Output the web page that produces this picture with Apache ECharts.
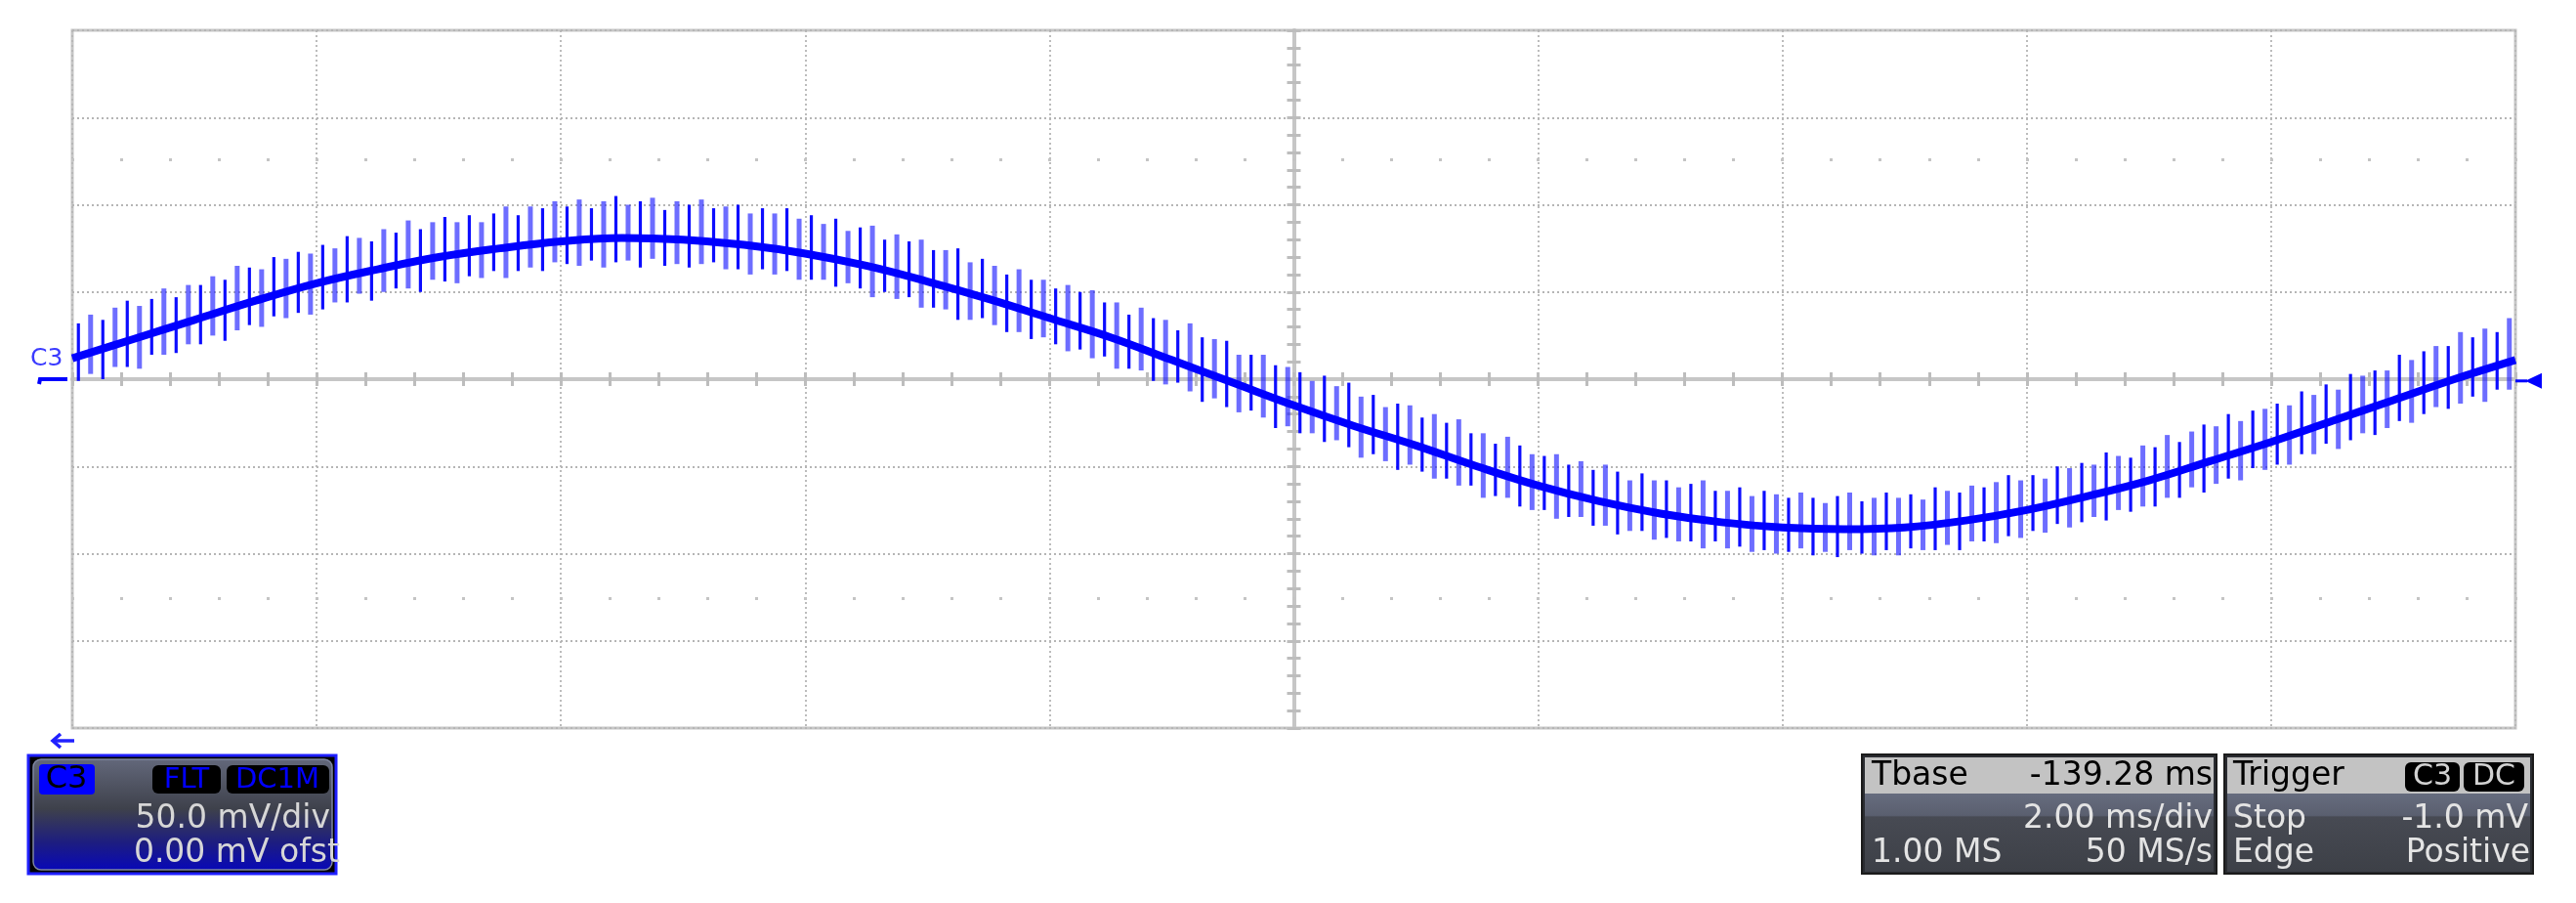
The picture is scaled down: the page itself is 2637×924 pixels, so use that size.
<!DOCTYPE html>
<html>
<head>
<meta charset="utf-8">
<title>C3 scope capture</title>
<script src="https://cdn.jsdelivr.net/npm/echarts@6/dist/echarts.min.js"></script>
<style>
  html, body { margin: 0; padding: 0; background: #fff; }
  #scope { width: 2637px; height: 924px; }
</style>
</head>
<body>
<div id="scope"></div>
<script>
// 2 ms/div, 10 divisions, 0 ms = screen centre; 50 mV/div, 8 divisions
const timeMin = -10, timeMax = 10, timeDiv = 2;
const voltMin = -200, voltMax = 200, voltDiv = 50;

// averaged trace, one sample every 0.5 ms from -10 ms (mV)
const traceStepMs = 0.5;
const traceMv = [12, 23, 34, 45, 55, 63, 70, 75, 79, 81, 80, 77, 72, 65, 56, 46, 35, 24, 11, -2,
  -15, -27, -38, -50, -61, -70, -77, -82, -85, -86, -85, -81, -75, -67, -58, -47, -36, -24, -12, 0, 11];

// switching spikes, one every 0.1 ms from -9.95 ms: top and bottom of each (mV)
const spikeStepMs = 0.1;
const spikeHigh = [
  32, 37, 34, 41, 45, 42, 46, 52, 47, 54, 54, 59, 57, 65, 64, 63, 70, 69, 73, 72,
  77, 75, 82, 81, 79, 86, 84, 91, 86, 90, 93, 90, 94, 90, 95, 99, 94, 99, 98, 102,
  99, 103, 98, 102, 105, 100, 102, 104, 97, 102, 100, 103, 98, 99, 100, 95, 98, 95, 98, 92,
  94, 89, 92, 85, 87, 88, 80, 83, 79, 80, 74, 74, 75, 67, 69, 65, 60, 63, 57, 57,
  52, 54, 50, 51, 44, 44, 37, 41, 35, 34, 28, 32, 24, 23, 22, 14, 14, 14, 8, 7,
  4, -1, 2, -4, -2, -10, -9, -16, -14, -15, -22, -20, -25, -23, -31, -31, -37, -33, -38, -43,
  -44, -43, -49, -47, -52, -49, -53, -58, -54, -58, -58, -62, -60, -58, -64, -64, -62, -67, -64, -66,
  -68, -65, -68, -71, -67, -65, -70, -68, -65, -68, -66, -69, -62, -64, -65, -61, -62, -59, -55, -58,
  -55, -57, -50, -51, -48, -49, -42, -44, -45, -38, -39, -32, -36, -30, -26, -27, -20, -24, -18, -17,
  -14, -15, -7, -9, -3, -6, 3, 2, 5, 5, 14, 11, 16, 19, 19, 27, 24, 29, 27, 35
];
const spikeLow = [
  -1, 3, 0, 7, 7, 6, 14, 14, 15, 20, 20, 25, 22, 28, 31, 30, 36, 35, 38, 37,
  40, 44, 44, 49, 45, 50, 52, 52, 50, 57, 56, 55, 59, 58, 62, 58, 62, 64, 62, 67,
  66, 65, 68, 64, 67, 68, 64, 69, 65, 66, 64, 66, 67, 63, 63, 60, 63, 60, 62, 57,
  57, 57, 53, 55, 52, 47, 50, 46, 47, 41, 41, 40, 34, 34, 35, 31, 27, 27, 23, 24,
  20, 16, 17, 12, 13, 6, 6, 5, -1, -3, -2, -7, -13, -11, -16, -19, -18, -22, -28, -27,
  -31, -31, -36, -35, -39, -45, -43, -47, -52, -49, -53, -57, -57, -61, -61, -68, -67, -68, -73, -75,
  -75, -80, -79, -79, -84, -84, -89, -87, -87, -92, -91, -93, -93, -97, -93, -97, -96, -99, -98, -100,
  -99, -97, -101, -99, -102, -98, -100, -101, -98, -101, -97, -98, -98, -95, -98, -93, -93, -94, -90, -91,
  -87, -88, -83, -85, -82, -79, -81, -75, -76, -73, -73, -68, -68, -62, -65, -60, -57, -58, -51, -52,
  -49, -49, -43, -43, -37, -40, -35, -31, -32, -28, -24, -25, -20, -16, -17, -14, -10, -13, -6, -6
];

const triggerLevelMv = -1.0;

const tracePoints = traceMv.map((v, i) => [timeMin + i * traceStepMs, v]);
const spikePoints = spikeHigh.map((h, i) => [timeMin + spikeStepMs / 2 + i * spikeStepMs, spikeLow[i], h]);

const gridGrey = '#c6c6c6';
const FONT = '"DejaVu Sans", Verdana, sans-serif';

function hiddenBits() {
  return { axisLabel: { show: false }, splitLine: { show: false } };
}

// centre cross axis with small ticks (one side per axis)
function centreX(inside) {
  return Object.assign(hiddenBits(), {
    type: 'value', min: timeMin, max: timeMax, interval: 0.4,
    axisLine: { show: true, onZero: true, onZeroAxisIndex: 0, lineStyle: { color: gridGrey, width: 4 } },
    axisTick: { show: true, inside: inside, length: 7, lineStyle: { color: '#bdbdbd', width: 3 } }
  });
}
function centreY(inside) {
  return Object.assign(hiddenBits(), {
    type: 'value', min: voltMin, max: voltMax, interval: 10, position: 'left',
    axisLine: { show: true, onZero: true, onZeroAxisIndex: 0, lineStyle: { color: gridGrey, width: 4 } },
    axisTick: { show: true, inside: inside, length: 7, lineStyle: { color: '#bdbdbd', width: 3 } }
  });
}
// rows of dots 2.5 div above / below centre
function dotRow(position) {
  return Object.assign(hiddenBits(), {
    type: 'value', min: timeMin, max: timeMax, interval: 0.4, position: position, offset: -134,
    axisLine: { show: false, onZero: false },
    axisTick: { show: true, length: 3, lineStyle: { color: '#c4c4c4', width: 3 } }
  });
}

const chart = echarts.init(document.getElementById('scope'));

const option = {
  animation: false,
  backgroundColor: '#fff',
  grid: {
    left: 74, right: 62, top: 31, bottom: 179,
    show: true, borderColor: gridGrey, borderWidth: 3, backgroundColor: '#fff'
  },
  xAxis: [
    {
      type: 'value', min: timeMin, max: timeMax, interval: timeDiv, position: 'bottom',
      axisLine: { show: false, onZero: false }, axisTick: { show: false }, axisLabel: { show: false },
      splitLine: { show: true, lineStyle: { color: '#b5b5b5', width: 1.8, type: [2, 3] } }
    },
    centreX(false),
    centreX(true),
    dotRow('top'),
    dotRow('bottom')
  ],
  yAxis: [
    {
      type: 'value', min: voltMin, max: voltMax, interval: voltDiv, position: 'left',
      axisLine: { show: false, onZero: false }, axisTick: { show: false }, axisLabel: { show: false },
      splitLine: { show: true, lineStyle: { color: '#b5b5b5', width: 1.8, type: [2, 3] } }
    },
    centreY(false),
    centreY(true)
  ],
  series: [
    {
      id: 'spikes',
      type: 'custom',
      xAxisIndex: 0, yAxisIndex: 0,
      clip: true,
      z: 3,
      data: spikePoints,
      encode: { x: 0, y: [1, 2] },
      renderItem: function (params, api) {
        const top = api.coord([api.value(0), api.value(2)]);
        const bottom = api.coord([api.value(0), api.value(1)]);
        const strong = params.dataIndex % 2 === 0;
        return {
          type: 'line',
          shape: { x1: top[0], y1: top[1], x2: bottom[0], y2: bottom[1] },
          style: {
            stroke: strong ? 'rgba(0,0,255,0.95)' : 'rgba(20,20,255,0.62)',
            lineWidth: strong ? 3.2 : 5
          }
        };
      }
    },
    {
      id: 'trace',
      type: 'line',
      xAxisIndex: 0, yAxisIndex: 0,
      z: 4,
      data: tracePoints,
      smooth: 0.4,
      symbol: 'none',
      lineStyle: { color: '#0000ff', width: 8 }
    }
  ]
};

chart.setOption(option);

// ---- overlay: channel marker, trigger marker and the readout boxes ----
const [, zeroY] = chart.convertToPixel({ seriesId: 'trace' }, [0, 0]);
const [, trigY] = chart.convertToPixel({ seriesId: 'trace' }, [0, triggerLevelMv]);
const [rightX] = chart.convertToPixel({ seriesId: 'trace' }, [timeMax, 0]);

function txt(x, y, text, opts) {
  return {
    type: 'text', x: x, y: y, silent: true, z: 20,
    style: Object.assign({
      text: text, font: '33px ' + FONT, fill: '#e4e4e4',
      textAlign: 'left', textVerticalAlign: 'middle'
    }, opts || {})
  };
}
function box(x, y, w, h, fill, extra) {
  return {
    type: 'rect', silent: true, z: 10,
    shape: Object.assign({ x: x, y: y, width: w, height: h }, extra && extra.shape),
    style: Object.assign({ fill: fill }, extra && extra.style)
  };
}

const lowerBand = new echarts.graphic.LinearGradient(0, 0, 0, 1, [
  { offset: 0, color: '#666c7e' }, { offset: 0.28, color: '#5a5f6f' },
  { offset: 0.3, color: '#474a53' }, { offset: 1, color: '#3d4047' }
]);
const channelFill = new echarts.graphic.LinearGradient(0, 0, 0, 1, [
  { offset: 0, color: '#63687b' }, { offset: 0.45, color: '#3e414b' },
  { offset: 0.75, color: '#1d1d80' }, { offset: 1, color: '#0808b8' }
]);

const overlay = [
  // channel label + ground marker on the left
  txt(31, zeroY - 21, 'C3', { font: '25px ' + FONT, fill: '#3b3bff' }),
  { type: 'polyline', z: 20, shape: { points: [[40, zeroY + 5], [41, zeroY], [69, zeroY]] },
    style: { stroke: '#0000ff', lineWidth: 4, fill: null } },
  // trigger level marker on the right
  { type: 'polyline', z: 20, shape: { points: [[rightX, trigY], [rightX + 12, trigY]] },
    style: { stroke: '#0000ff', lineWidth: 3, fill: null } },
  { type: 'polygon', z: 20, shape: { points: [[rightX + 10, trigY], [rightX + 27, trigY - 8], [rightX + 27, trigY + 8]] },
    style: { fill: '#0000ff' } },
  // horizontal position arrow
  { type: 'polyline', z: 20, shape: { points: [[62, 751], [54, 758], [62, 765]] },
    style: { stroke: '#2020ff', lineWidth: 3.5, fill: null } },
  { type: 'polyline', z: 20, shape: { points: [[55, 758], [76, 758]] },
    style: { stroke: '#2020ff', lineWidth: 3.5, fill: null } },

  // channel box
  box(29, 773, 315, 121, '#000', { style: { stroke: '#1e1eff', lineWidth: 3 } }),
  box(34, 777, 306, 113, channelFill, { shape: { r: 8 }, style: { stroke: '#7f86a2', lineWidth: 1.5 } }),
  box(40, 782, 57, 31, '#0000ff', { shape: { r: 4 } }),
  txt(68, 798, 'C3', { font: '32px ' + FONT, fill: '#000', textAlign: 'center' }),
  box(156, 783, 70, 29, '#000', { shape: { r: 6 } }),
  txt(191, 798, 'FLT', { font: '29px ' + FONT, fill: '#0000ff', textAlign: 'center' }),
  box(232, 783, 105, 29, '#000', { shape: { r: 6 } }),
  txt(284, 798, 'DC1M', { font: '29px ' + FONT, fill: '#0000ff', textAlign: 'center' }),
  txt(338, 838, '50.0 mV/div', { textAlign: 'right', fill: '#d6d6d6' }),
  txt(348, 873, '0.00 mV ofst', { textAlign: 'right', fill: '#d6d6d6' }),

  // timebase box
  box(1906, 772, 363, 122, '#2a2c31', { style: { stroke: '#1b1b1b', lineWidth: 2 } }),
  box(1909, 775, 357, 37, '#c3c3c3'),
  box(1909, 812, 357, 80, lowerBand),
  txt(1916, 794, 'Tbase', { fill: '#000' }),
  txt(2265, 794, '-139.28 ms', { fill: '#000', textAlign: 'right' }),
  txt(2265, 838, '2.00 ms/div', { textAlign: 'right' }),
  txt(1916, 873, '1.00 MS'),
  txt(2265, 873, '50 MS/s', { textAlign: 'right' }),

  // trigger box
  box(2277, 772, 316, 122, '#2a2c31', { style: { stroke: '#1b1b1b', lineWidth: 2 } }),
  box(2280, 775, 310, 37, '#c3c3c3'),
  box(2280, 812, 310, 80, lowerBand),
  txt(2286, 794, 'Trigger', { fill: '#000' }),
  box(2462, 780, 56, 30, '#000', { shape: { r: 6 } }),
  txt(2490, 795, 'C3', { font: '30px ' + FONT, fill: '#d2d2d2', textAlign: 'center' }),
  box(2522, 780, 62, 30, '#000', { shape: { r: 6 } }),
  txt(2553, 795, 'DC', { font: '30px ' + FONT, fill: '#d2d2d2', textAlign: 'center' }),
  txt(2286, 838, 'Stop'),
  txt(2588, 838, '-1.0 mV', { textAlign: 'right' }),
  txt(2286, 873, 'Edge'),
  txt(2590, 873, 'Positive', { textAlign: 'right' })
];

chart.setOption({ graphic: overlay });
</script>
</body>
</html>
